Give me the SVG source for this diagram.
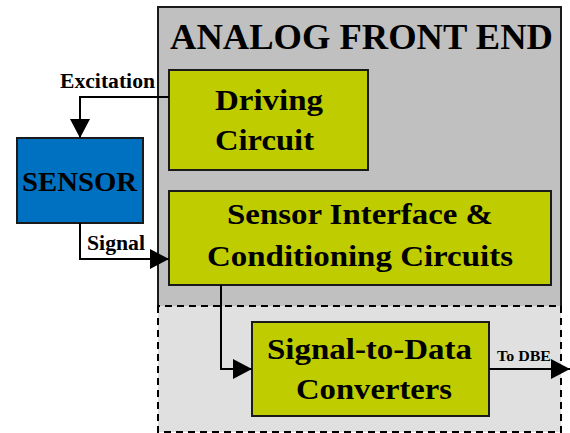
<svg xmlns="http://www.w3.org/2000/svg" width="570" height="433" viewBox="0 0 570 433">
<style>
text{font-family:"Liberation Serif","Times New Roman",serif;font-weight:bold;fill:#000}
.blk{fill:#BFCC00;stroke:#1a1a1a;stroke-width:2}
.ln{fill:none;stroke:#000;stroke-width:2}
</style>
<defs>
<marker id="ahb" markerWidth="19" markerHeight="20" refX="19" refY="10" orient="auto" markerUnits="userSpaceOnUse" viewBox="0 0 19 20">
<path d="M0,0 L19,10 L0,20 Z" fill="#000"/>
</marker>
</defs>
<g id="afe">
<rect x="158" y="7" width="403" height="299" fill="#C0C0C0"/>
<rect x="158" y="306" width="403" height="126" fill="#E0E0E0"/>
<path d="M158,306 L158,7 L561,7 L561,306" fill="none" stroke="#1a1a1a" stroke-width="2"/>
<path d="M158,306 L158,432 L561,432 L561,306 Z" fill="none" stroke="#000" stroke-width="2" stroke-dasharray="7,5"/>
<text x="170" y="49" font-size="36" textLength="383" lengthAdjust="spacingAndGlyphs">ANALOG FRONT END</text>
</g>
<g id="driving">
<rect class="blk" x="169" y="70" width="199" height="100"/>
<text x="215" y="110" font-size="30" textLength="108" lengthAdjust="spacingAndGlyphs">Driving</text>
<text x="215" y="150" font-size="30" textLength="99" lengthAdjust="spacingAndGlyphs">Circuit</text>
</g>
<g id="sensor">
<rect x="17" y="138" width="126" height="85" fill="#0070C0" stroke="#1a1a1a" stroke-width="2"/>
<text x="22" y="191" font-size="28" textLength="115" lengthAdjust="spacingAndGlyphs">SENSOR</text>
</g>
<g id="interface">
<rect class="blk" x="169" y="191" width="382" height="94"/>
<text x="227" y="224" font-size="30" textLength="266" lengthAdjust="spacingAndGlyphs">Sensor Interface &amp;</text>
<text x="207" y="266" font-size="30" textLength="306" lengthAdjust="spacingAndGlyphs">Conditioning Circuits</text>
</g>
<g id="s2d">
<rect class="blk" x="252" y="322" width="237" height="94"/>
<text x="267" y="359" font-size="30" textLength="205" lengthAdjust="spacingAndGlyphs">Signal-to-Data</text>
<text x="296" y="399" font-size="30" textLength="156" lengthAdjust="spacingAndGlyphs">Converters</text>
</g>
<g id="connectors">
<path class="ln" d="M169,97 L80,97 L80,138" marker-end="url(#ahb)"/>
<text x="60" y="88" font-size="20" textLength="95" lengthAdjust="spacingAndGlyphs">Excitation</text>
<path class="ln" d="M80,223 L80,259 L169,259" marker-end="url(#ahb)"/>
<text x="87" y="250" font-size="20" textLength="58" lengthAdjust="spacingAndGlyphs">Signal</text>
<path class="ln" d="M221,285 L221,369 L252,369" marker-end="url(#ahb)"/>
<path class="ln" d="M489,369 L570,369" marker-end="url(#ahb)"/>
<text x="497" y="361" font-size="15" textLength="54" lengthAdjust="spacingAndGlyphs">To DBE</text>
</g>
</svg>
